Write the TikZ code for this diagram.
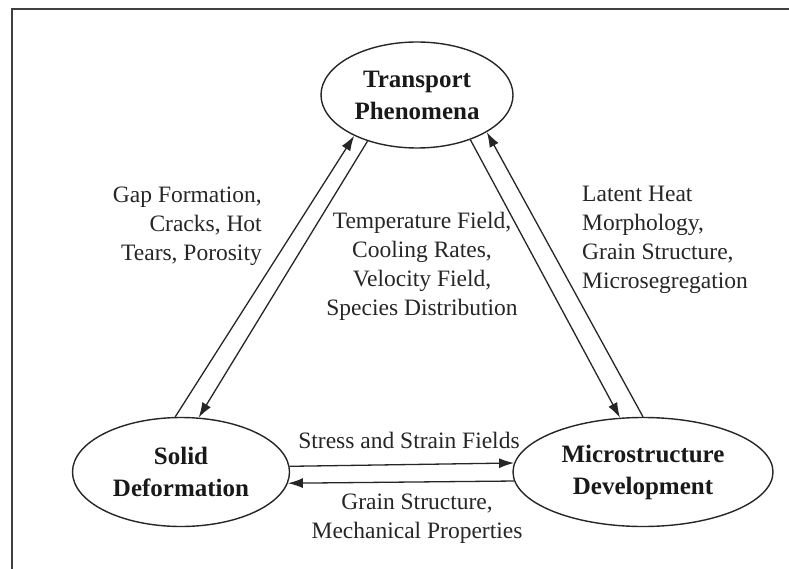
\documentclass[tikz,border=0pt]{standalone}
\usepackage{fontspec}
\setmainfont{Liberation Serif}
\usetikzlibrary{shapes.geometric,arrows.meta}
\begin{document}
\begin{tikzpicture}[x=1pt,y=-1pt,
  ell/.style={ellipse,draw=black!85,line width=1.4pt,inner sep=0pt,
    font=\fontsize{25}{32}\selectfont\bfseries,align=center,text=black!90},
  lbl/.style={font=\fontsize{23.5}{29}\selectfont,text=black!85,inner sep=0pt},
  conn/.style={draw=black!85,line width=1.3pt,-{Latex[length=15pt,width=10pt]}}]
\useasboundingbox (0,0) rectangle (789,569);
\draw[line width=2pt,black!75] (12,569) -- (12,9) -- (789,9);

\node[ell,minimum width=192pt,minimum height=106pt] (T) at (417,95) {Transport\\Phenomena};
\node[ell,minimum width=217pt,minimum height=109pt] (S) at (181,472) {Solid\\Deformation};
\node[ell,minimum width=260pt,minimum height=109pt] (M) at (643,472) {Microstructure\\Development};

\draw[conn] (S.96) -- (T.213);
\draw[conn] (T.223) -- (S.72.5);
\draw[conn] (T.320) -- (M.113);
\draw[conn] (M.90) -- (T.332);
\draw[conn] (S.3.7) -- (M.176.9);
\draw[conn] (M.184.8) -- (S.354.2);

\node[lbl,align=right,anchor=east] (gap) at (262,226) {Gap Formation,\\Cracks, Hot\\Tears, Porosity};
\node[lbl,align=center] (temp) at (422,266) {Temperature Field,\\Cooling Rates,\\Velocity Field,\\Species Distribution};
\node[lbl,align=left,anchor=west] (lat) at (582,240) {Latent Heat\\Morphology,\\Grain Structure,\\Microsegregation};
\node[lbl] (str) at (409,440) {Stress and Strain Fields};
\node[lbl,align=center] (gr) at (417,519) {Grain Structure,\\Mechanical Properties};
\end{tikzpicture}
\end{document}
